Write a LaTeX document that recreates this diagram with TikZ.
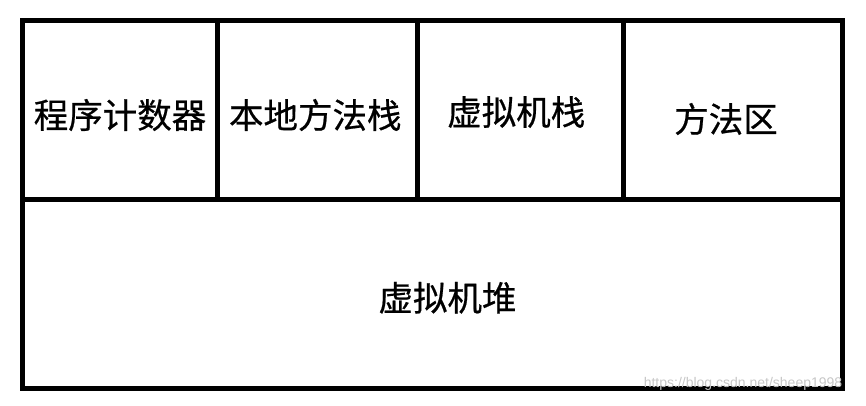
\documentclass[tikz,border=0pt]{standalone}
\usepackage{fontspec}
\setmainfont{Liberation Sans}
\newfontfamily\cjk[FakeBold=0.6]{Noto Sans CJK SC}
\begin{document}
\begin{tikzpicture}[
   x=1pt,y=-1pt,
   cell/.style={draw,line width=5pt,inner sep=0pt,outer sep=0pt},
   cjktext/.style={font=\cjk\fontsize{34.5}{40}\selectfont,inner sep=0pt},
   mark text/.style={text=gray!45,font=\fontsize{14}{16}\selectfont,inner sep=0pt}]
\useasboundingbox (0,0) rectangle (866,405);
% top row
\node[cell,minimum width=195pt,minimum height=179pt] (pc) at (120,110) {};
\node[cell,minimum width=199.5pt,minimum height=179pt] (native) at (317.25,110) {};
\node[cell,minimum width=206.5pt,minimum height=179pt] (vmstack) at (520.25,110) {};
\node[cell,minimum width=219pt,minimum height=179pt] (method) at (733,110) {};
% bottom row
\node[cell,minimum width=820pt,minimum height=188.5pt] (heap) at (432.5,293.75) {};
% texts
\node[cjktext] (pctext) at ([yshift=-5pt]pc.center) {程序计数器};
\node[cjktext] (nativetext) at ([xshift=-2pt,yshift=-5pt]native.center) {本地方法栈};
\node[cjktext] (vmstacktext) at ([xshift=-4pt,yshift=-2pt]vmstack.center) {虚拟机栈};
\node[cjktext] (methodtext) at ([xshift=-7pt,yshift=-9pt]method.center) {方法区};
\node[cjktext] (heaptext) at ([xshift=15pt,yshift=-4pt]heap.center) {虚拟机堆};
\node[mark text] (url) at (743,384) {https://blog.csdn.net/sheep1998};
\end{tikzpicture}
\end{document}
